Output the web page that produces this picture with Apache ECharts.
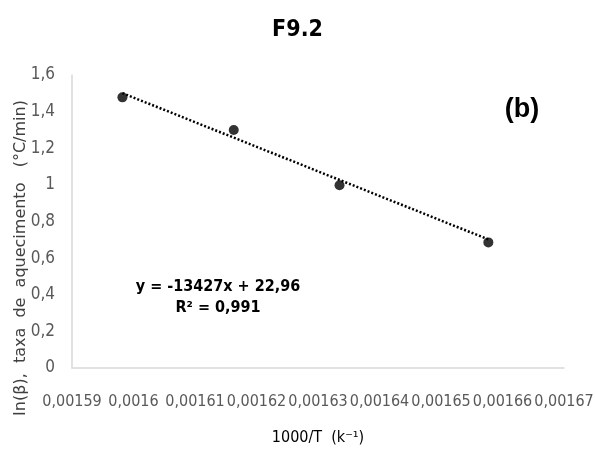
<!DOCTYPE html>
<html>
<head>
<meta charset="utf-8">
<script src="https://cdn.jsdelivr.net/npm/echarts@6/dist/echarts.min.js"></script>
<style>
  html, body { margin: 0; padding: 0; background: #fff; }
  #content { width: 595px; height: 452px; }
</style>
</head>
<body>
<div id="content"></div>
<script>
// 1000/T values and ln(beta)
const xValues = [0.0015982, 0.0016163, 0.0016335, 0.0016577];
const yValues = [1.478, 1.30, 0.998, 0.686];
// linear trend from the label on the chart
const slope = -13427;
const intercept = 22.96;
const eqLines = ['y = -13427x + 22,96', 'R² = 0,991'];

const narrow = '"DejaVu Sans Condensed", "Liberation Sans Narrow", sans-serif';
const comma = v => parseFloat(v.toFixed(6)).toString().replace('.', ',');

const points = xValues.map((x, i) => [x, yValues[i]]);
const xMin = Math.min(...xValues), xMax = Math.max(...xValues);
const trend = [xMin, xMax].map(x => [x, slope * x + intercept]);

const chart = echarts.init(document.getElementById('content'));
chart.setOption({
  animation: false,
  title: {
    text: 'F9.2',
    left: 'center',
    top: 14,
    textStyle: { fontFamily: narrow, fontWeight: 'bold', fontSize: 23, color: '#000' }
  },
  grid: { left: 72, right: 31, top: 75, bottom: 84, outerBoundsMode: 'none' },
  xAxis: {
    type: 'value',
    min: 0.00159,
    max: 0.00167,
    interval: 0.00001,
    name: '1000/T  (k⁻¹)',
    nameLocation: 'middle',
    nameGap: 62,
    nameTextStyle: { fontFamily: narrow, fontSize: 16, color: '#000' },
    axisLine: { lineStyle: { color: '#d9d9d9', width: 1.5 } },
    axisTick: { show: false },
    splitLine: { show: false },
    axisLabel: {
      formatter: comma, fontFamily: narrow, fontSize: 16, color: '#595959', margin: 26,
      showMinLabel: true, showMaxLabel: true
    }
  },
  yAxis: {
    type: 'value',
    min: 0,
    max: 1.6,
    interval: 0.2,
    axisLine: { show: true, lineStyle: { color: '#d9d9d9', width: 1.5 } },
    axisTick: { show: false },
    splitLine: { show: false },
    axisLabel: { formatter: comma, fontFamily: narrow, fontSize: 17, color: '#595959', margin: 17 }
  },
  graphic: [
    {
      type: 'text',
      x: 13, y: 258,
      rotation: Math.PI / 2,
      style: {
        text: 'In(β),  taxa  de  aquecimento   (°C/min)',
        font: '16px "DejaVu Sans", sans-serif',
        fill: '#404040',
        align: 'center',
        verticalAlign: 'top'
      }
    },
    {
      type: 'text',
      x: 522, y: 110,
      style: {
        text: '(b)',
        font: 'bold 27px "Liberation Sans", Arial, sans-serif',
        fill: '#000',
        align: 'center',
        verticalAlign: 'middle'
      }
    },
    {
      type: 'text',
      x: 218, y: 297,
      style: {
        text: eqLines.join('\n'),
        font: 'bold 16px ' + narrow,
        lineHeight: 21,
        fill: '#000',
        align: 'center',
        verticalAlign: 'middle'
      }
    }
  ],
  series: [
    {
      type: 'line',
      data: trend,
      symbol: 'none',
      lineStyle: { color: '#000', width: 2.5, type: [2, 2] },
      z: 1
    },
    {
      type: 'scatter',
      data: points,
      symbol: 'circle',
      symbolSize: 10,
      itemStyle: { color: '#000' },
      z: 2
    }
  ]
});
</script>
</body>
</html>
